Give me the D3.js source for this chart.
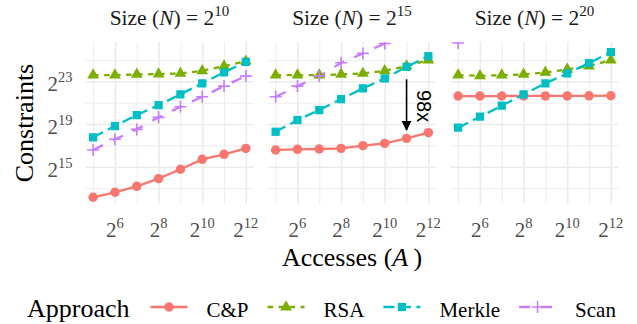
<!DOCTYPE html>
<html>
<head>
<meta charset="utf-8">
<script src="https://cdn.jsdelivr.net/npm/d3@7"></script>
<style>
  body { margin: 0; background: #fff; }
  svg, svg text { font-family: "Liberation Serif", "Times New Roman", serif; }
</style>
</head>
<body>
<script>
// log2 of accesses (A) and of sizes (N)
const A_EXP = [5, 6, 7, 8, 9, 10, 11, 12];
const SIZE_EXP = [10, 15, 20];
const APPROACHES = ["C&P", "RSA", "Merkle", "Scan"];
const X_TICKS = [6, 8, 10, 12];
const Y_TICKS = [15, 19, 23];

// log2(constraints), one row per size (2^10, 2^15, 2^20)
const CP = [
  [12.13, 12.6, 13.16, 13.88, 14.76, 15.69, 16.16, 16.72],
  [16.57, 16.63, 16.66, 16.72, 16.97, 17.19, 17.66, 18.19],
  [21.63, 21.63, 21.63, 21.64, 21.64, 21.64, 21.65, 21.66]
];
const RSA = [
  [23.59, 23.59, 23.66, 23.69, 23.75, 24.0, 24.44, 24.9],
  [23.59, 23.59, 23.59, 23.66, 23.75, 24.0, 24.44, 25.0],
  [23.59, 23.53, 23.59, 23.66, 23.85, 24.13, 24.44, 25.0]
];
const MERKLE = [
  [17.76, 18.81, 19.85, 20.78, 21.79, 22.82, 23.85, 24.84],
  [18.28, 19.38, 20.31, 21.34, 22.35, 23.28, 24.37, 25.37],
  [18.66, 19.69, 20.72, 21.78, 22.82, 23.75, 24.72, 25.75]
];
const SCAN = [
  [16.57, 17.57, 18.5, 19.63, 20.62, 21.56, 22.56, 23.5],
  [21.56, 22.56, 23.5, 24.75, 25.63, 26.56, null, null],
  [26.6, null, null, null, null, null, null, null]
];
const SERIES = [CP, RSA, MERKLE, SCAN];

const COLORS = ["#F8766D", "#7CAE00", "#00BFC4", "#C77CFF"];
const DASHES = [null, "5.5,5.5", "11,5.5", "11,11"];

const W = 637, H = 324;
const panelW = 168, panelTop = 42, panelBottom = 204;
const panelLeft = i => 85.5 + i * 182.5;

const x = d3.scaleLinear().domain([4.65, 12.35]).range([0, panelW]);
const y = d3.scaleLinear().domain([11.5, 26.7]).range([panelBottom, panelTop]);

const svg = d3.select('body').append('svg')
  .attr('width', W)
  .attr('height', H)
  .attr('font-family', '"Liberation Serif", "Times New Roman", serif');

const defs = svg.append('defs');
defs.append('marker')
  .attr('id', 'arrowhead')
  .attr('markerUnits', 'userSpaceOnUse')
  .attr('markerWidth', 12)
  .attr('markerHeight', 12)
  .attr('refX', 9)
  .attr('refY', 5)
  .attr('orient', 'auto')
  .append('path')
  .attr('d', 'M0,0L10,5L0,10Z')
  .attr('fill', '#000');

function drawMarker(sel, k) {
  if (k === 0) return sel.append('path').attr('d', d3.symbol(d3.symbolCircle, 70)()).attr('fill', COLORS[k]);
  if (k === 1) return sel.append('path').attr('d', d3.symbol(d3.symbolTriangle, 60)()).attr('fill', COLORS[k]);
  if (k === 2) return sel.append('path').attr('d', d3.symbol(d3.symbolSquare, 68)()).attr('fill', COLORS[k]);
  return sel.append('path').attr('d', 'M-6,0H6M0,-6V6')
    .attr('stroke', COLORS[k]).attr('stroke-width', 1.6).attr('fill', 'none');
}

function supText(sel, base, sup, supSize, rise) {
  sel.append('tspan').text(base);
  sel.append('tspan').attr('font-size', supSize).attr('dy', -rise).text(sup);
}

const line = d3.line()
  .defined(d => d.v != null)
  .x(d => x(d.a))
  .y(d => y(d.v));

SIZE_EXP.forEach((n, i) => {
  const g = svg.append('g').attr('transform', `translate(${panelLeft(i)},0)`);

  // grid
  g.append('g')
    .attr('transform', `translate(0,${panelBottom})`)
    .call(d3.axisBottom(x).tickValues([5, 7, 9, 11]).tickSize(-(panelBottom - panelTop)).tickFormat(''))
    .call(s => s.select('.domain').remove())
    .call(s => s.selectAll('line').attr('stroke', '#EBEBEB').attr('stroke-width', 0.9));
  g.append('g')
    .call(d3.axisLeft(y).tickValues([13, 17, 21, 25]).tickSize(-panelW).tickFormat(''))
    .call(s => s.select('.domain').remove())
    .call(s => s.selectAll('line').attr('stroke', '#EBEBEB').attr('stroke-width', 0.9));
  g.append('g')
    .attr('transform', `translate(0,${panelBottom})`)
    .call(d3.axisBottom(x).tickValues(X_TICKS).tickSize(-(panelBottom - panelTop)).tickFormat(''))
    .call(s => s.select('.domain').remove())
    .call(s => s.selectAll('line').attr('stroke', '#EBEBEB').attr('stroke-width', 1.6));
  g.append('g')
    .call(d3.axisLeft(y).tickValues(Y_TICKS).tickSize(-panelW).tickFormat(''))
    .call(s => s.select('.domain').remove())
    .call(s => s.selectAll('line').attr('stroke', '#EBEBEB').attr('stroke-width', 1.6));

  // x tick labels
  X_TICKS.forEach(t => {
    g.append('text')
      .attr('x', x(t))
      .attr('y', 237)
      .attr('text-anchor', 'middle')
      .attr('font-size', 21)
      .attr('fill', '#4D4D4D')
      .call(s => supText(s, '2', t, 14.5, 9));
  });

  // y tick labels on first panel only
  if (i === 0) {
    Y_TICKS.forEach(t => {
      g.append('text')
        .attr('x', -13)
        .attr('y', y(t) + 10)
        .attr('text-anchor', 'end')
        .attr('font-size', 21)
        .attr('fill', '#4D4D4D')
        .call(s => supText(s, '2', t, 14.5, 9));
    });
  }

  // facet title
  const title = g.append('text')
    .attr('x', panelW / 2)
    .attr('y', 25)
    .attr('text-anchor', 'middle')
    .attr('font-size', 21.5)
    .attr('fill', '#1A1A1A');
  title.append('tspan').text('Size (');
  title.append('tspan').attr('font-style', 'italic').text('N');
  title.append('tspan').text(') = 2');
  title.append('tspan').attr('font-size', 15).attr('dy', -9).text(n);

  // data
  const clipId = `clip${i}`;
  defs.append('clipPath').attr('id', clipId)
    .append('rect')
    .attr('x', 0).attr('y', panelTop)
    .attr('width', panelW).attr('height', panelBottom - panelTop);
  const plot = g.append('g').attr('clip-path', `url(#${clipId})`);

  SERIES.forEach((series, k) => {
    const pts = A_EXP.map((a, j) => ({ a, v: series[i][j] }));
    plot.append('path')
      .datum(pts)
      .attr('d', line)
      .attr('fill', 'none')
      .attr('stroke', COLORS[k])
      .attr('stroke-width', 2.3)
      .attr('stroke-dasharray', DASHES[k]);
  });
  SERIES.forEach((series, k) => {
    A_EXP.forEach((a, j) => {
      const v = series[i][j];
      if (v == null) return;
      const m = plot.append('g').attr('transform', `translate(${x(a)},${y(v)})`);
      drawMarker(m, k);
    });
  });

  // annotation on middle panel
  if (i === 1) {
    g.append('line')
      .attr('x1', x(11)).attr('y1', y(23.2))
      .attr('x2', x(11)).attr('y2', y(18.45))
      .attr('stroke', '#000')
      .attr('stroke-width', 1.6)
      .attr('marker-end', 'url(#arrowhead)');
    g.append('text')
      .attr('transform', `translate(${x(11.47)},${y(20.69)}) rotate(90)`)
      .attr('text-anchor', 'middle')
      .attr('font-size', 20)
      .style('font-family', '"Liberation Sans", Arial, sans-serif')
      .text('98x');
  }
});

// axis titles
const xt = svg.append('text')
  .attr('x', (panelLeft(0) + panelLeft(2) + panelW) / 2)
  .attr('y', 266)
  .attr('text-anchor', 'middle')
  .attr('font-size', 26);
xt.append('tspan').text('Accesses (');
xt.append('tspan').attr('font-style', 'italic').text('A');
xt.append('tspan').text('\u2009)');

svg.append('text')
  .attr('transform', `translate(33,${(panelTop + panelBottom) / 2}) rotate(-90)`)
  .attr('text-anchor', 'middle')
  .attr('font-size', 26)
  .text('Constraints');

// legend
const legend = svg.append('g');
const ly = 307, lbase = 316.5;
let lx = 27;
const lt = legend.append('text').attr('x', lx).attr('y', lbase).attr('font-size', 26).text('Approach');
lx += lt.node().getComputedTextLength() + 21;
APPROACHES.forEach((name, k) => {
  legend.append('line')
    .attr('x1', lx).attr('x2', lx + 37)
    .attr('y1', ly).attr('y2', ly)
    .attr('stroke', COLORS[k])
    .attr('stroke-width', 2.3)
    .attr('stroke-dasharray', DASHES[k]);
  drawMarker(legend.append('g').attr('transform', `translate(${lx + 18.5},${ly})`), k);
  lx += 37 + 19;
  const t = legend.append('text').attr('x', lx).attr('y', lbase).attr('font-size', 21).text(name);
  lx += t.node().getComputedTextLength() + 19;
});
</script>
</body>
</html>
